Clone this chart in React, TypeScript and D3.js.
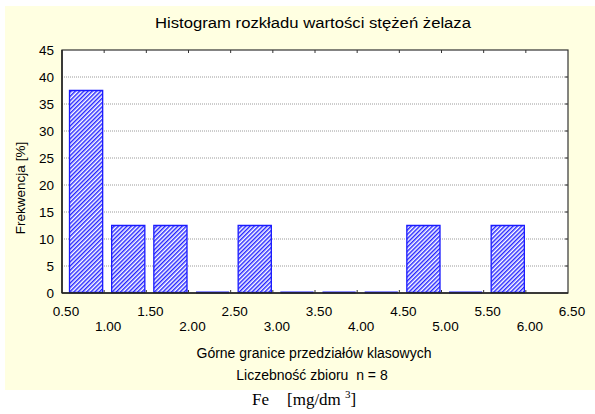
import React from "react";
import * as d3 from "d3";

const binLower = [0.5, 1.0, 1.5, 2.0, 2.5, 3.0, 3.5, 4.0, 4.5, 5.0, 5.5];
const binUpper = [1.0, 1.5, 2.0, 2.5, 3.0, 3.5, 4.0, 4.5, 5.0, 5.5, 6.0];
const frequency = [37.5, 12.5, 12.5, 0, 12.5, 0, 0, 0, 12.5, 0, 12.5];
const xTicks = [0.5, 1.0, 1.5, 2.0, 2.5, 3.0, 3.5, 4.0, 4.5, 5.0, 5.5, 6.0, 6.5];
const yTicks = [0, 5, 10, 15, 20, 25, 30, 35, 40, 45];

const title = "Histogram rozkładu wartości stężeń żelaza";
const yLabel = "Frekwencja [%]";
const xLabel = "Górne granice przedziałów klasowych";
const nLabel = "Liczebność zbioru  n = 8";

export default function App() {
  const W = 595, H = 414;
  const left = 62, right = 568, top = 50, bottom = 293;
  const x = d3.scaleLinear().domain([0.5, 6.5]).range([left, right]);
  const y = d3.scaleLinear().domain([0, 45]).range([bottom, top]);
  const font = "'Liberation Sans', Arial, sans-serif";
  const serif = "'Liberation Serif', 'Times New Roman', serif";
  const blue = "#1a1aff";

  return (
    <svg width={W} height={H} style={{ position: "absolute", left: 0, top: 0, background: "#fff" }}>
      <defs>
        <pattern id="hatch" width={3} height={3} patternUnits="userSpaceOnUse" patternTransform="rotate(45)">
          <rect width={3} height={3} fill="#fff" />
          <line x1={0.75} y1={0} x2={0.75} y2={3} stroke={blue} strokeWidth={1.4} />
        </pattern>
      </defs>
      <rect x={5} y={6} width={590} height={384} fill="#FFFFE1" />
      <rect x={left} y={top} width={right - left} height={bottom - top} fill="#fff" />
      {yTicks.filter(t => t > 0 && t < 45).map(t => (
        <line key={"g" + t} x1={left} x2={right} y1={y(t)} y2={y(t)} stroke="#9a9a9a" strokeWidth={1} strokeDasharray="1,1" />
      ))}
      {frequency.map((f, i) => {
        const x0 = x(binLower[i]) + 7.5;
        const x1 = x(binUpper[i]) - 1.5;
        const y0 = y(0) - 0.5;
        const y1 = f > 0 ? y(f) : y0;
        const p = d3.path();
        p.moveTo(x0, y0);
        p.lineTo(x0, y1);
        p.lineTo(x1, y1);
        p.lineTo(x1, y0);
        p.closePath();
        return (
          <path key={"b" + i} d={p.toString()} fill={f > 0 ? "url(#hatch)" : "none"} stroke={blue} strokeWidth={f > 0 ? 1.3 : 2} />
        );
      })}
      <rect x={left} y={top} width={right - left} height={bottom - top} fill="none" stroke="#333" strokeWidth={1.2} />
      <line x1={left} x2={left} y1={top} y2={bottom} stroke="#222" strokeWidth={1.5} />
      <line x1={left} x2={right} y1={bottom} y2={bottom} stroke="#222" strokeWidth={1.5} />
      {xTicks.slice(1, -1).map(t => (
        <g key={"xt" + t}>
          <line x1={x(t)} x2={x(t)} y1={bottom} y2={bottom - 3} stroke="#333" />
          <line x1={x(t)} x2={x(t)} y1={top} y2={top + 3} stroke="#333" />
        </g>
      ))}
      {yTicks.slice(1, -1).map(t => (
        <line key={"yt" + t} x1={right} x2={right - 3} y1={y(t)} y2={y(t)} stroke="#333" />
      ))}
      {yTicks.map(t => (
        <text key={"yl" + t} x={54} y={y(t)} dy="0.36em" textAnchor="end" fontFamily={font} fontSize={13.5} fill="#000">{t}</text>
      ))}
      {xTicks.map((t, i) => (
        <text key={"xl" + t} x={x(t) + 4} y={i % 2 === 0 ? 316 : 331} textAnchor="middle" fontFamily={font} fontSize={13.5} fill="#000">{t.toFixed(2)}</text>
      ))}
      <text x={313} y={28} textAnchor="middle" fontFamily={font} fontSize={14} textLength={316} lengthAdjust="spacingAndGlyphs" fill="#000">{title}</text>
      <text transform={`translate(25,188) rotate(-90)`} textAnchor="middle" fontFamily={font} fontSize={13.5} fill="#000">{yLabel}</text>
      <text x={314} y={358} textAnchor="middle" fontFamily={font} fontSize={14} fill="#000">{xLabel}</text>
      <text x={312} y={380} textAnchor="middle" fontFamily={font} fontSize={14} fill="#000" style={{ whiteSpace: "pre" }}>{nLabel}</text>
      <text x={252} y={405} fontFamily={serif} fontSize={17} fill="#000">Fe</text>
      <text x={287} y={405} fontFamily={serif} fontSize={17} fill="#000">
        {"[mg/dm "}<tspan dy={-7} fontSize={11}>3</tspan><tspan dy={7}>]</tspan>
      </text>
    </svg>
  );
}
